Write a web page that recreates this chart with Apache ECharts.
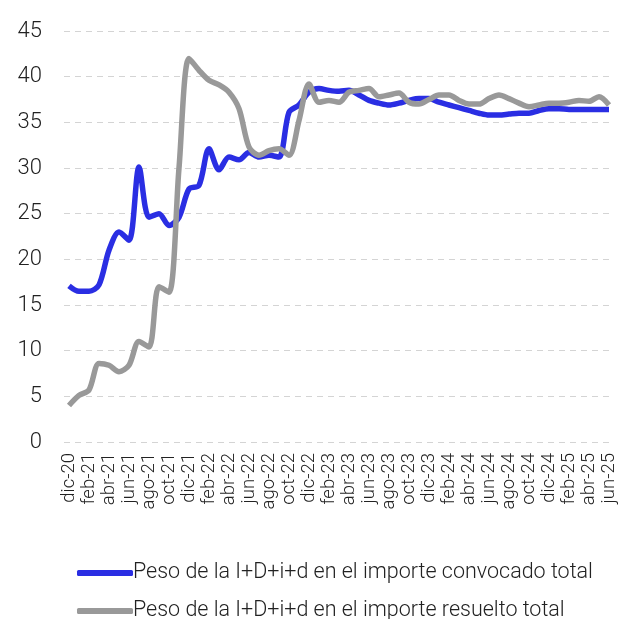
<!DOCTYPE html>
<html>
<head>
<meta charset="utf-8">
<script src="https://cdn.jsdelivr.net/npm/echarts@6/dist/echarts.min.js"></script>
<style>
  html, body { margin: 0; padding: 0; background: #fff; }
  #chart { width: 624px; height: 619px; }
</style>
</head>
<body>
<div id="chart"></div>
<script>
const years = ['20', '21', '22', '23', '24', '25']
const monthNames = ['ene', 'feb', 'mar', 'abr', 'may', 'jun', 'jul', 'ago', 'sep', 'oct', 'nov', 'dic']

// dic-20 .. jun-25
const months = ['dic-20']
for (let y = 1; y < years.length; y++) {
  for (let m = 0; m < 12; m++) {
    if (y === years.length - 1 && m > 5) break
    months.push(monthNames[m] + '-' + years[y])
  }
}

const yTicks = [0, 5, 10, 15, 20, 25, 30, 35, 40, 45]

const convocado = [
  17.1, 16.5, 16.5, 17.2, 21.0, 23.0, 22.1, 30.1, 24.6, 25.0,
  23.7, 24.6, 27.7, 28.1, 32.1, 29.8, 31.2, 30.9, 31.7, 31.2,
  31.4, 31.2, 36.1, 36.9, 38.3, 38.7, 38.5, 38.4, 38.5, 38.0,
  37.4, 37.1, 36.9, 37.1, 37.4, 37.6, 37.6, 37.2, 36.9, 36.6,
  36.3, 36.0, 35.8, 35.8, 35.9, 36.0, 36.0, 36.3, 36.5, 36.5,
  36.4, 36.4, 36.4, 36.4, 36.4
]

const resuelto = [
  4.0, 5.1, 5.7, 8.6, 8.4, 7.7, 8.4, 11.0, 10.4, 17.0,
  16.4, 30.0, 42.0, 40.7, 39.6, 39.1, 38.3, 36.5, 32.3, 31.4,
  31.9, 32.1, 31.4, 35.2, 39.2, 37.2, 37.4, 37.2, 38.3, 38.5,
  38.7, 37.8, 38.0, 38.2, 37.2, 37.0, 37.5, 38.0, 38.0, 37.4,
  37.0, 37.0, 37.6, 38.0, 37.6, 37.1, 36.7, 36.9, 37.1, 37.1,
  37.2, 37.4, 37.3, 37.8, 36.9
]

const seriesNames = [
  'Peso de la I+D+i+d en el importe convocado total',
  'Peso de la I+D+i+d en el importe resuelto total'
]
const colors = ['#2a2ee3', '#999999']

function legendFor(name, top) {
  return {
    orient: 'vertical',
    left: 77,
    top: top,
    padding: 0,
    itemWidth: 56,
    itemHeight: 6,
    icon: 'roundRect',
    textStyle: {
      fontFamily: 'Roboto',
      fontWeight: 300,
      fontSize: 21.5,
      color: '#222',
      padding: [0, 0, 0, -5]
    },
    data: [name]
  }
}

let myChart = echarts.init(document.getElementById('chart'))
let option = {
  animation: false,
  textStyle: {
    fontFamily: 'Roboto'
  },
  grid: {
    left: 64,
    right: 10,
    top: 31,
    bottom: 177
  },
  legend: [
    legendFor(seriesNames[0], 562),
    legendFor(seriesNames[1], 600)
  ],
  xAxis: {
    type: 'category',
    data: months,
    boundaryGap: true,
    axisLine: { show: false },
    axisTick: { show: false },
    axisLabel: {
      interval: 1,
      rotate: 90,
      margin: 11,
      fontSize: 18.5,
      fontWeight: 300,
      color: '#222'
    }
  },
  yAxis: {
    type: 'value',
    min: yTicks[0],
    max: yTicks[yTicks.length - 1],
    interval: 5,
    axisLine: { show: false },
    axisTick: { show: false },
    axisLabel: {
      margin: 22,
      fontSize: 22,
      fontWeight: 300,
      color: '#222'
    },
    splitLine: {
      lineStyle: {
        color: '#d4d4d4',
        type: [6, 5],
        width: 1
      }
    }
  },
  series: [
    {
      name: seriesNames[0],
      type: 'line',
      data: convocado,
      smooth: 0.3,
      showSymbol: false,
      lineStyle: { color: colors[0], width: 5.5 },
      itemStyle: { color: colors[0] },
      z: 2
    },
    {
      name: seriesNames[1],
      type: 'line',
      data: resuelto,
      smooth: 0.3,
      showSymbol: false,
      lineStyle: { color: colors[1], width: 5.5 },
      itemStyle: { color: colors[1] },
      z: 3
    }
  ]
}
myChart.setOption(option)
window.addEventListener('resize', function() {
  myChart.resize()
})
</script>
</body>
</html>
